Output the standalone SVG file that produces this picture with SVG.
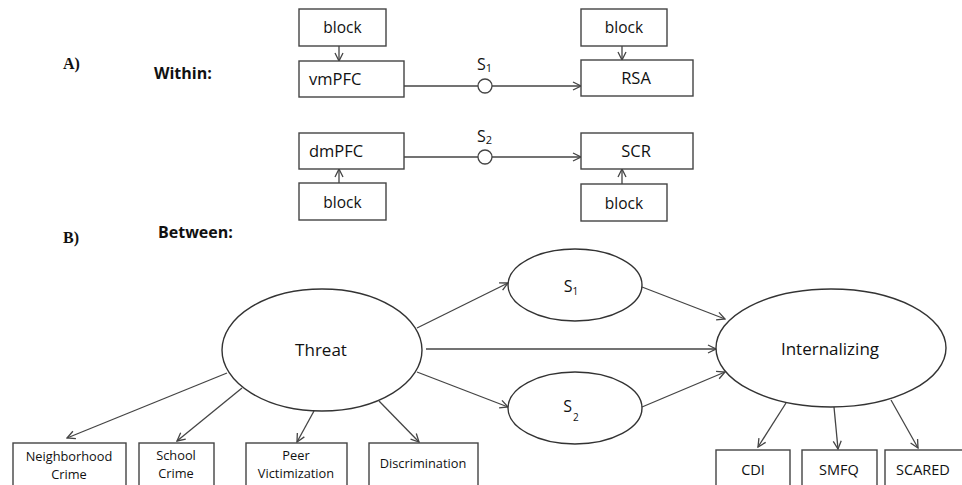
<svg xmlns="http://www.w3.org/2000/svg" width="962" height="485" viewBox="0 0 962 485">
<style>
.box{fill:#fff;stroke:#444;stroke-width:1.4}
.ell{fill:#fff;stroke:#333;stroke-width:1.4}
.ln{fill:none;stroke:#444;stroke-width:1.3}
.t{font-family:"Open Sans","Liberation Sans",sans-serif;fill:#111}
.sm{font-size:15.5px}
.md{font-size:16.5px}
.lb{font-size:12.8px}
.big{font-size:17px}
.hd{font-family:"Open Sans","Liberation Sans",sans-serif;font-weight:bold;font-size:16px;fill:#111}
.sec{font-family:"Liberation Serif",serif;font-weight:bold;font-size:16px;fill:#111}
</style>
<defs>
<marker id="arr" markerWidth="10" markerHeight="10" refX="9" refY="5" orient="auto" markerUnits="userSpaceOnUse">
<path d="M1,1 L9,5 L1,9" fill="none" stroke="#444" stroke-width="1.3"/>
</marker>
</defs>
<rect width="962" height="485" fill="#fff"/>

<text class="sec" x="63" y="69">A)</text>
<text class="hd" x="154" y="79">Within:</text>
<text class="sec" x="63" y="243">B)</text>
<text class="hd" x="158" y="238">Between:</text>

<g id="connectors">
<line class="ln" x1="339" y1="46" x2="339" y2="61" marker-end="url(#arr)"/>
<line class="ln" x1="622" y1="46" x2="622" y2="60" marker-end="url(#arr)"/>
<line class="ln" x1="339" y1="183" x2="339" y2="169" marker-end="url(#arr)"/>
<line class="ln" x1="622" y1="184" x2="622" y2="169" marker-end="url(#arr)"/>
<line class="ln" x1="404" y1="86" x2="478" y2="86"/>
<line class="ln" x1="492" y1="86" x2="581" y2="86" marker-end="url(#arr)"/>
<line class="ln" x1="404" y1="157" x2="478" y2="157"/>
<line class="ln" x1="492" y1="157" x2="581" y2="157" marker-end="url(#arr)"/>
<circle cx="485" cy="86" r="7" fill="#fff" stroke="#444" stroke-width="1.3"/>
<circle cx="485" cy="157" r="7" fill="#fff" stroke="#444" stroke-width="1.3"/>

<line class="ln" x1="417" y1="328" x2="508" y2="283" marker-end="url(#arr)"/>
<line class="ln" x1="426" y1="349" x2="716" y2="349" marker-end="url(#arr)"/>
<line class="ln" x1="417" y1="372" x2="508" y2="407" marker-end="url(#arr)"/>
<line class="ln" x1="642" y1="287" x2="725" y2="319" marker-end="url(#arr)"/>
<line class="ln" x1="642" y1="407" x2="725" y2="372" marker-end="url(#arr)"/>
<line class="ln" x1="227" y1="373" x2="67" y2="438" marker-end="url(#arr)"/>
<line class="ln" x1="242" y1="388" x2="177" y2="441" marker-end="url(#arr)"/>
<line class="ln" x1="314" y1="411" x2="297" y2="442" marker-end="url(#arr)"/>
<line class="ln" x1="379" y1="401" x2="419" y2="442" marker-end="url(#arr)"/>
<line class="ln" x1="786" y1="403" x2="758" y2="447" marker-end="url(#arr)"/>
<line class="ln" x1="834" y1="407" x2="838" y2="449" marker-end="url(#arr)"/>
<line class="ln" x1="891" y1="400" x2="918" y2="448" marker-end="url(#arr)"/>
</g>

<g id="s1label"><text class="t" x="477" y="70" font-size="16">S<tspan font-size="11" dy="2">1</tspan></text></g>
<g id="s2label"><text class="t" x="477" y="142" font-size="16">S<tspan font-size="11" dy="2">2</tspan></text></g>

<g id="block1"><rect class="box" x="299" y="9" width="87" height="37"/><text class="t sm" x="342.5" y="33" text-anchor="middle">block</text></g>
<g id="vmPFC"><rect class="box" x="299" y="61" width="105" height="36"/><text class="t md" x="309" y="85">vmPFC</text></g>
<g id="block2"><rect class="box" x="581" y="9" width="86" height="37"/><text class="t sm" x="624" y="33" text-anchor="middle">block</text></g>
<g id="RSA"><rect class="box" x="581" y="60" width="112" height="36"/><text class="t md" x="636" y="84" text-anchor="middle">RSA</text></g>
<g id="dmPFC"><rect class="box" x="299" y="133" width="105" height="36"/><text class="t md" x="309" y="157">dmPFC</text></g>
<g id="block3"><rect class="box" x="299" y="183" width="87" height="37"/><text class="t sm" x="342.5" y="208" text-anchor="middle">block</text></g>
<g id="SCR"><rect class="box" x="581" y="133" width="112" height="36"/><text class="t md" x="636" y="157" text-anchor="middle">SCR</text></g>
<g id="block4"><rect class="box" x="581" y="184" width="86" height="37"/><text class="t sm" x="624" y="209" text-anchor="middle">block</text></g>

<g id="Threat"><ellipse class="ell" cx="322" cy="350" rx="100" ry="61"/><text class="t big" x="321" y="356" text-anchor="middle">Threat</text></g>
<g id="S1"><ellipse class="ell" cx="575" cy="285" rx="67" ry="36"/><text class="t" font-size="16" x="571" y="292" text-anchor="middle">S<tspan font-size="10" dy="3">1</tspan></text></g>
<g id="S2"><ellipse class="ell" cx="575" cy="408" rx="67" ry="36"/><text class="t" font-size="16" x="571" y="412" text-anchor="middle">S<tspan font-size="10" dx="1" dy="9">2</tspan></text></g>
<g id="Internalizing"><ellipse class="ell" cx="831" cy="348" rx="115" ry="59"/><text class="t big" x="830" y="355" text-anchor="middle">Internalizing</text></g>

<g id="Neighborhood"><rect class="box" x="13" y="443" width="113" height="50"/><text class="t lb" x="69" y="461" text-anchor="middle">Neighborhood</text><text class="t lb" x="69" y="479" text-anchor="middle">Crime</text></g>
<g id="School"><rect class="box" x="139" y="443" width="75" height="50"/><text class="t lb" x="176" y="460" text-anchor="middle">School</text><text class="t lb" x="176" y="478" text-anchor="middle">Crime</text></g>
<g id="Peer"><rect class="box" x="246" y="443" width="101" height="50"/><text class="t lb" x="296" y="460" text-anchor="middle">Peer</text><text class="t lb" x="296" y="478" text-anchor="middle">Victimization</text></g>
<g id="Discrimination"><rect class="box" x="369" y="443" width="109" height="50"/><text class="t lb" x="423" y="468" text-anchor="middle">Discrimination</text></g>
<g id="CDI"><rect class="box" x="716" y="450" width="74" height="45"/><text class="t" font-size="14.5" x="753" y="475" text-anchor="middle">CDI</text></g>
<g id="SMFQ"><rect class="box" x="802" y="450" width="75" height="45"/><text class="t" font-size="14.5" x="839" y="475" text-anchor="middle">SMFQ</text></g>
<g id="SCARED"><rect class="box" x="885" y="450" width="80" height="45"/><text class="t" font-size="14.5" x="923" y="475" text-anchor="middle">SCARED</text></g>
</svg>
